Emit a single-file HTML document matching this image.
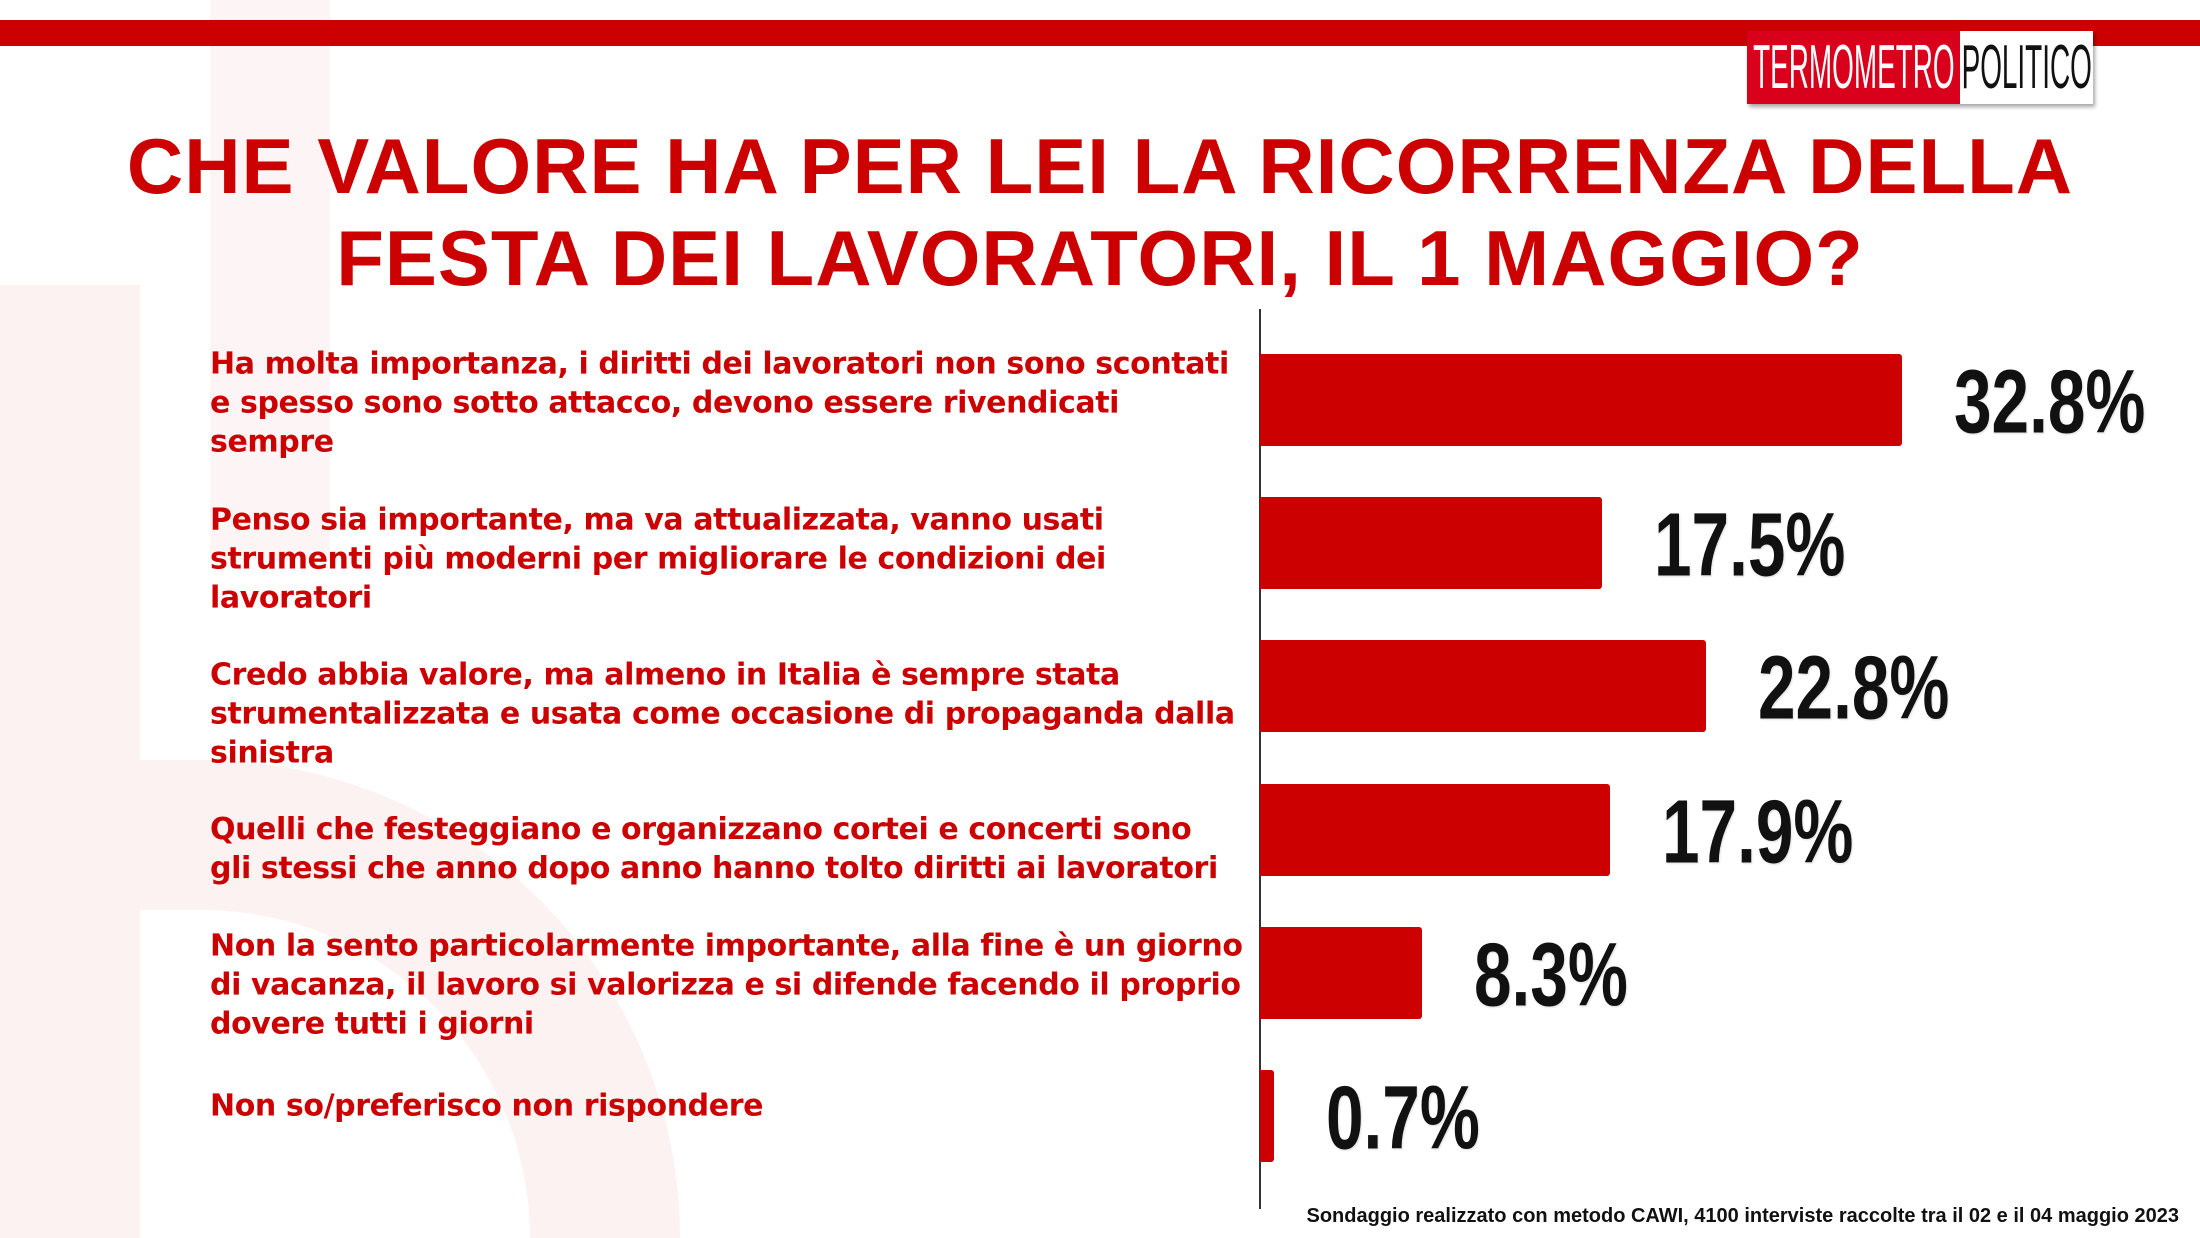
<!DOCTYPE html>
<html><head><meta charset="utf-8">
<style>
html,body{margin:0;padding:0;width:2200px;height:1238px;overflow:hidden}
body{position:relative;background:#fff;font-family:"Liberation Sans",sans-serif}
.abs{position:absolute}
#bg{position:absolute;left:0;top:0;width:2200px;height:1238px;overflow:hidden}
.title{left:0;width:2200px;text-align:center;color:#cc0000;font-weight:bold;font-size:78px;line-height:92px;top:120px;letter-spacing:1px;white-space:nowrap}
.lab{position:absolute;left:210px;color:#cc0000;font-family:"DejaVu Sans","Liberation Sans",sans-serif;font-weight:bold;font-size:30px;line-height:39px;letter-spacing:-0.4px;white-space:nowrap;transform:translateY(-50%)}
.val{position:absolute;font-family:"Liberation Sans Narrow","Liberation Sans",sans-serif;font-weight:bold;font-size:90px;color:#111;transform:translateY(-50%) scaleX(0.75);transform-origin:left center;text-shadow:0 0 3px #fff,1px 1px 2px #ccc;white-space:nowrap}
.lg{display:inline-block;transform:scaleX(0.45);transform-origin:center}
</style></head>
<body>
<div id="bg">
<div class="abs" style="left:0;top:285px;width:140px;height:953px;background:#fdf2f2"></div>
<div class="abs" style="left:-420px;top:760px;width:1100px;height:478px;border-radius:550px 550px 0 0;border:150px solid #fdf2f2;border-bottom:none;box-sizing:border-box"></div>
<div class="abs" style="left:210px;top:0;width:120px;height:560px;background:#fdf5f5"></div>
</div>
<div class="abs" style="left:0;top:20px;width:2200px;height:26px;background:#cc0000"></div>
<div class="abs" style="left:1747px;top:31px;width:346px;height:73px;box-shadow:2px 3px 4px rgba(0,0,0,.35);display:flex;font-family:'Liberation Sans',sans-serif;font-size:62px;line-height:73px">
<div style="background:#d9001b;color:#fff;width:213px;text-align:center;overflow:hidden;white-space:nowrap"><span class="lg" style="margin-left:-120px;margin-right:-120px">TERMOMETRO</span></div>
<div style="background:#fff;color:#111;width:133px;text-align:center;overflow:hidden;white-space:nowrap"><span class="lg" style="margin-left:-100px;margin-right:-100px">POLITICO</span></div>
</div>
<div class="abs title">CHE VALORE HA PER LEI LA RICORRENZA DELLA<br>FESTA DEI LAVORATORI, IL 1 MAGGIO?</div>
<div class="abs" style="left:1259px;top:309px;width:2px;height:900px;background:#333"></div>
<div id="chart"></div>
<div class="abs" style="right:21px;top:1205px;font-size:20px;font-weight:bold;color:#111;white-space:nowrap">Sondaggio realizzato con metodo CAWI, 4100 interviste raccolte tra il 02 e il 04 maggio 2023</div>
<script>
const categories = [
"Ha molta importanza, i diritti dei lavoratori non sono scontati\ne spesso sono sotto attacco, devono essere rivendicati\nsempre",
"Penso sia importante, ma va attualizzata, vanno usati\nstrumenti più moderni per migliorare le condizioni dei\nlavoratori",
"Credo abbia valore, ma almeno in Italia è sempre stata\nstrumentalizzata e usata come occasione di propaganda dalla\nsinistra",
"Quelli che festeggiano e organizzano cortei e concerti sono\ngli stessi che anno dopo anno hanno tolto diritti ai lavoratori",
"Non la sento particolarmente importante, alla fine è un giorno\ndi vacanza, il lavoro si valorizza e si difende facendo il proprio\ndovere tutti i giorni",
"Non so/preferisco non rispondere"
];
const values = [32.8, 17.5, 22.8, 17.9, 8.3, 0.7];
const valueLabels = ["32.8%","17.5%","22.8%","17.9%","8.3%","0.7%"];
const x0 = 1260, pxPer = 19.57, yTop = 354, step = 143.2, barH = 92;
const labelTop = 403, labelStep = 155.6;
function xScale(v){ return v * pxPer; }
function yScale(i){ return yTop + i * step; }
const chart = document.getElementById('chart');
values.forEach((v,i)=>{
  const y = yScale(i), cy = y + barH/2;
  const b = document.createElement('div');
  
  
  b.className='abs';
  b.style.cssText = `left:${x0}px;top:${y}px;width:${xScale(v)}px;height:${barH}px;background:#cc0000;border-radius:0 3px 3px 0`;
  chart.appendChild(b);
  const l = document.createElement('div');
  
  
  l.className='lab';
  const ly = i < 3 ? labelTop + i*labelStep : (i===3 ? 849 : (i===4 ? 985 : 1106));
  l.style.top = ly + 'px';
  categories[i].split('\n').forEach((line,k)=>{
    if(k) l.appendChild(document.createElement('br'));
    l.appendChild(document.createTextNode(line));
  });
  chart.appendChild(l);
  const t = document.createElement('div');
  
  
  t.className='val';
  t.style.left = (x0 + xScale(v) + 52) + 'px';
  t.style.top = (cy + 3) + 'px';
  t.textContent = valueLabels[i];
  chart.appendChild(t);
});
</script>
</body></html>
